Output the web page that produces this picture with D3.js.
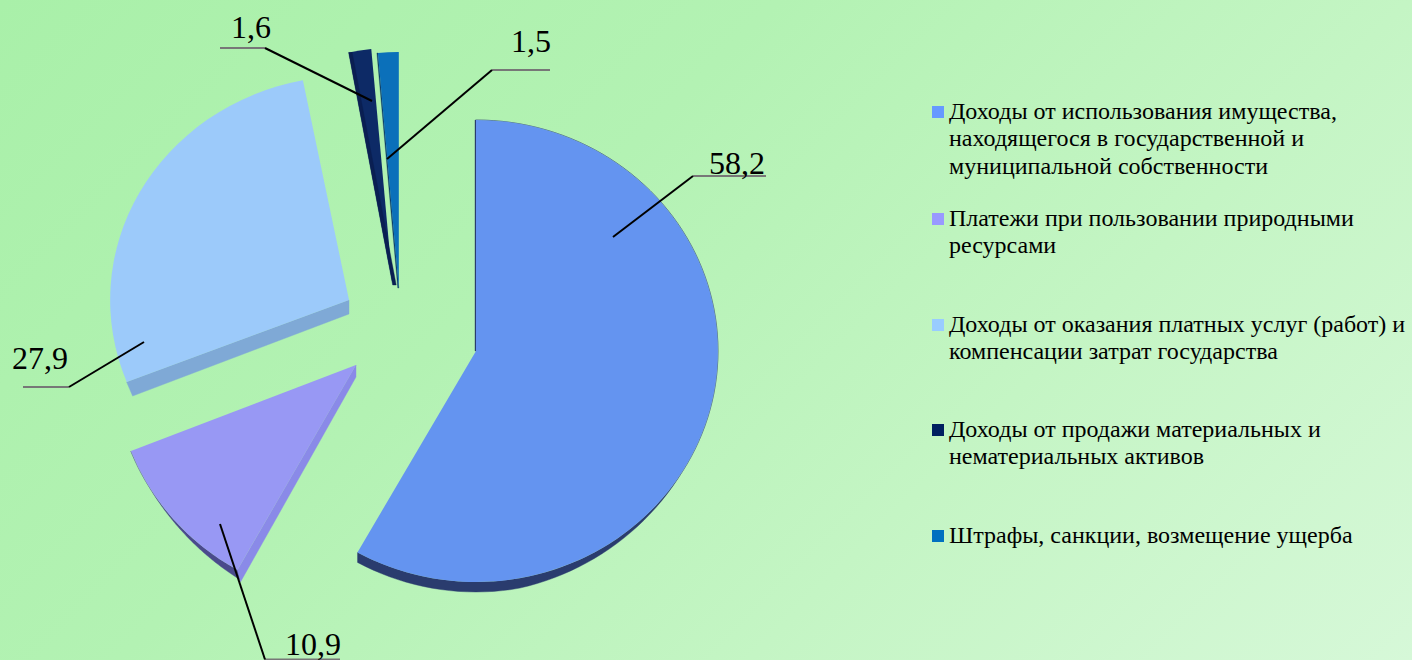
<!DOCTYPE html>
<html>
<head>
<meta charset="utf-8">
<script src="https://cdn.jsdelivr.net/npm/d3@7"></script>
<style>
	html, body { margin: 0; padding: 0; overflow: hidden; }
	svg { display: block; }
	text { font-family: "Liberation Serif", serif; fill: #000; }
</style>
</head>
<body>
<svg width="1412" height="660"></svg>
<script>
// values
var categories = [
	"Доходы от использования имущества, находящегося в государственной и муниципальной собственности",
	"Платежи при пользовании природными ресурсами",
	"Доходы от оказания платных услуг (работ) и компенсации затрат государства",
	"Доходы от продажи материальных и нематериальных активов",
	"Штрафы, санкции, возмещение ущерба"
];
var shares = [58.2, 10.9, 27.9, 1.6, 1.5];
var shareLabels = ["58,2", "10,9", "27,9", "1,6", "1,5"];

// legend text is broken by hand, same as the picture
var legendLines = [
	["Доходы от использования имущества,", "находящегося в государственной и", "муниципальной собственности"],
	["Платежи при пользовании природными", "ресурсами"],
	["Доходы от оказания платных услуг (работ) и", "компенсации затрат государства"],
	["Доходы от продажи материальных и", "нематериальных активов"],
	["Штрафы, санкции, возмещение ущерба"]
];

// layout and colours, not data
var surfaceColors = ["#6494f0", "#9898f4", "#9ccafa", "#0d2a66", "#0b70ba"];
var swatchColors = ["#6699ff", "#9999ff", "#99ccff", "#002060", "#0070c0"];
var sliceBox = [
	{ cx: 476, cy: 351, rx: 242, ry: 231 },
	{ cx: 356, cy: 365, rx: 242, ry: 235 },
	{ cx: 349, cy: 300, rx: 239, ry: 224 },
	{ cx: 392.7, cy: 285, rx: 228, ry: 237 },
	{ cx: 398.8, cy: 288, rx: 222, ry: 236 }
];
// side walls of the fake 3d: kind arc or edge, fade is degrees where the wall grows from 0 to full.
// skew makes dx grow from 0 at the apex to full at the rim
var walls = [
	{ slice: 0, kind: "arc", color: "#2a3c6e", dx: 0, dy: 10, fade: [122, 170] },
	{ slice: 0, kind: "edge", color: "#2a3c6e", dx: -1, dy: 0 },
	{ slice: 1, kind: "arc", color: "#4a4a8c", dx: 3, dy: 10, fade: [238.7, 209.5] },
	{ slice: 1, kind: "edge", color: "#8a8ae8", dx: 3, dy: 12, skew: true },
	{ slice: 2, kind: "edge", color: "#7fa9d6", dx: 6, dy: 14, skew: true },
	{ slice: 4, kind: "edge", color: "#0a3c6a", dx: -1, dy: 0 },
	{ slice: 3, kind: "edge", color: "#0a1f52", dx: 3.5, dy: 0, front: true }
];
var labelLayout = [
	{ x: 737, y: 174, line: [[766, 176], [693, 176], [613, 237]] },
	{ x: 313, y: 655, line: [[340, 659.5], [265, 659.5], [220, 524]] },
	{ x: 40, y: 369, line: [[23, 387], [69, 387], [144, 342]] },
	{ x: 251, y: 38, line: [[220, 48], [265, 48], [372, 101]] },
	{ x: 531, y: 52, line: [[550, 70], [492, 70], [387, 159]] }
];
var legendX = 949;
var legendTops = [119, 226, 332, 437, 543];
var legendStep = 27.3;

var svg = d3.select("svg"),
	width = +svg.attr("width"),
	height = +svg.attr("height");

var defs = svg.append("defs");
var bg = defs.append("linearGradient")
	.attr("id", "bg")
	.attr("gradientUnits", "userSpaceOnUse")
	.attr("x1", 0).attr("y1", 0)
	.attr("x2", 1036).attr("y2", 1036);
bg.append("stop").attr("offset", "0").attr("stop-color", "#a9f0a9");
bg.append("stop").attr("offset", "0.376").attr("stop-color", "#b3f2b3");
bg.append("stop").attr("offset", "0.68").attr("stop-color", "#c4f5c4");
bg.append("stop").attr("offset", "1").attr("stop-color", "#d6f8d8");

svg.append("rect")
	.attr("width", width)
	.attr("height", height)
	.attr("fill", "url(#bg)");

var pie = d3.pie().sort(null).value(function(d) { return d; });
var arcs = pie(shares);
var unitArc = d3.arc().innerRadius(0).outerRadius(1);

// point on the slice ellipse, angle in radians clockwise from top
function polar(i, a, t) {
	var b = sliceBox[i];
	return [b.cx + Math.sin(a) * b.rx * t, b.cy - Math.cos(a) * b.ry * t];
}

function wallPath(w) {
	var a = arcs[w.slice];
	var samples;
	if (w.kind == "arc") {
		samples = d3.range(0, 1.001, 0.01).map(function(k) {
			var ang = a.startAngle + (a.endAngle - a.startAngle) * k;
			var deg = ang * 180 / Math.PI;
			var f = Math.max(0, Math.min(1, (deg - w.fade[0]) / (w.fade[1] - w.fade[0])));
			return { p: polar(w.slice, ang, 1), fx: f, fy: f };
		});
	} else {
		samples = [0, 1].map(function(t) {
			return { p: polar(w.slice, a.startAngle, t), fx: w.skew ? t : 1, fy: 1 };
		});
	}
	return d3.area()
		.x0(function(d) { return d.p[0]; })
		.y0(function(d) { return d.p[1]; })
		.x1(function(d) { return d.p[0] + w.dx * d.fx; })
		.y1(function(d) { return d.p[1] + w.dy * d.fy; })(samples);
}

function drawWalls(list) {
	svg.append("g")
		.selectAll("path")
		.data(list)
		.enter().append("path")
		.attr("d", wallPath)
		.attr("fill", function(d) { return d.color; })
		.attr("stroke", function(d) { return d.color; })
		.attr("stroke-width", 0.4);
}

drawWalls(walls.filter(function(w) { return !w.front; }));

svg.append("g")
	.selectAll("path")
	.data(arcs)
	.enter().append("path")
	.attr("d", unitArc)
	.attr("transform", function(d, i) {
		var b = sliceBox[i];
		return "translate(" + b.cx + "," + b.cy + ") scale(" + b.rx + "," + b.ry + ")";
	})
	.attr("fill", function(d, i) { return surfaceColors[i]; });

drawWalls(walls.filter(function(w) { return w.front; }));

// leader lines, gray shelf then black line
var leaders = svg.append("g").selectAll("g")
	.data(labelLayout)
	.enter().append("g");
leaders.append("line")
	.attr("x1", function(d) { return d.line[0][0]; })
	.attr("y1", function(d) { return d.line[0][1]; })
	.attr("x2", function(d) { return d.line[1][0]; })
	.attr("y2", function(d) { return d.line[1][1]; })
	.attr("stroke", "#777")
	.attr("stroke-width", 2);
leaders.append("line")
	.attr("x1", function(d) { return d.line[1][0]; })
	.attr("y1", function(d) { return d.line[1][1]; })
	.attr("x2", function(d) { return d.line[2][0]; })
	.attr("y2", function(d) { return d.line[2][1]; })
	.attr("stroke", "#000")
	.attr("stroke-width", 2);
leaders.append("text")
	.attr("x", function(d) { return d.x; })
	.attr("y", function(d) { return d.y; })
	.attr("text-anchor", "middle")
	.style("font-size", "32px")
	.text(function(d, i) { return shareLabels[i]; });

// legend
var legend = svg.append("g").selectAll("g")
	.data(categories)
	.enter().append("g")
	.attr("class", "legend-item");
legend.append("title").text(function(d) { return d; });
legend.append("rect")
	.attr("x", 932)
	.attr("y", function(d, i) { return legendTops[i] - 13; })
	.attr("width", 12)
	.attr("height", 12)
	.attr("fill", function(d, i) { return swatchColors[i]; });
legend.each(function(d, i) {
	d3.select(this).selectAll("text")
		.data(legendLines[i])
		.enter().append("text")
		.attr("x", legendX)
		.attr("y", function(l, j) { return legendTops[i] + j * legendStep; })
		.style("font-size", "24px")
		.text(function(l) { return l; });
});
</script>
</body>
</html>
